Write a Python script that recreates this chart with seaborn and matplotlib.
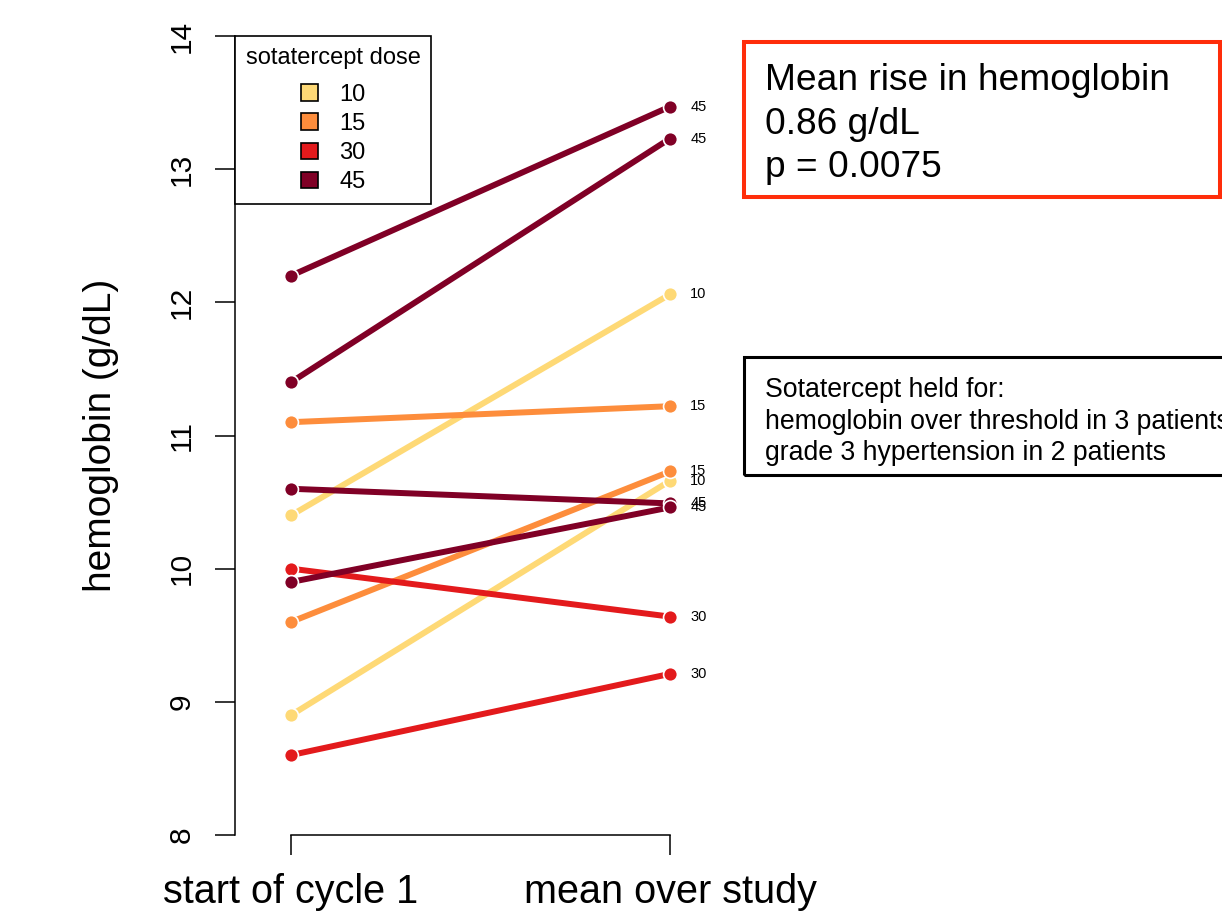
import matplotlib
matplotlib.use("Agg")
import matplotlib.pyplot as plt
from matplotlib.patches import Patch, Rectangle
import seaborn as sns
import pandas as pd

# Datos: hemoglobina al inicio del ciclo 1 y media durante el estudio
patients = ["P1", "P2", "P3", "P4", "P5", "P6", "P7", "P8", "P9", "P10"]
dose = ["45", "45", "15", "45", "10", "30", "45", "15", "10", "30"]
hb_start = [12.2, 11.4, 11.1, 10.6, 10.4, 10.0, 9.9, 9.6, 8.9, 8.6]
hb_mean = [13.47, 13.23, 11.22, 10.49, 12.06, 9.64, 10.46, 10.73, 10.66, 9.21]

timepoints = ["start of cycle 1", "mean over study"]
dose_levels = ["10", "15", "30", "45"]
dose_colors = ["#FED976", "#FD8D3C", "#E31A1C", "#800026"]

summary_lines = ["Mean rise in hemoglobin", "0.86 g/dL", "p = 0.0075"]
held_lines = ["Sotatercept held for:",
              "hemoglobin over threshold in 3 patients",
              "grade 3 hypertension in 2 patients"]

# formato largo para seaborn
df = pd.DataFrame({
    "patient": patients * 2,
    "dose": dose * 2,
    "time": [0] * len(patients) + [1] * len(patients),
    "hb": hb_start + hb_mean,
})
palette = dict(zip(dose_levels, dose_colors))

sns.set_style("ticks")
plt.rcParams["font.family"] = ["Liberation Sans", "DejaVu Sans"]
plt.rcParams["text.color"] = "black"
plt.rcParams["axes.labelcolor"] = "black"
plt.rcParams["xtick.color"] = "black"
plt.rcParams["ytick.color"] = "black"

W, H = 1222, 911
fig = plt.figure(figsize=(W / 100, H / 100), dpi=100)
ax = fig.add_axes([235 / W, 1 - 835 / H, (730 - 235) / W, (835 - 36) / H])

sns.lineplot(data=df, x="time", y="hb", hue="dose", units="patient",
             estimator=None, palette=palette, hue_order=dose_levels,
             marker="o", markersize=10, markeredgecolor="white",
             markeredgewidth=1.2, linewidth=4.3, legend=False, ax=ax)

# etiquetas de dosis junto al valor medio
for d, v in zip(dose, hb_mean):
    ax.annotate(d, (1, v), xytext=(14.5, 0), textcoords="offset points",
                va="center", ha="left", fontsize=10.5, annotation_clip=False)

ax.set_xlim(-(291 - 235) / 379, (730 - 291) / 379)
ax.set_ylim(8, 14)
ax.set_xticks([0, 1])
ax.set_xticklabels(timepoints, fontsize=28.5)
ax.set_yticks(range(8, 15))
ax.set_yticklabels([str(t) for t in range(8, 15)], fontsize=21.5,
                   rotation=90, va="center")
ax.tick_params(axis="y", length=14.4, width=1.1, pad=14)
ax.tick_params(axis="x", length=14.4, width=1.1, pad=13)
ax.set_xlabel("")
ax.set_ylabel("hemoglobin (g/dL)", fontsize=28, va="center")
ax.yaxis.set_label_coords((101 - 235) / 495, 0.5)

for s in ["top", "right"]:
    ax.spines[s].set_visible(False)
for s in ["left", "bottom"]:
    ax.spines[s].set_linewidth(1.1)
    ax.spines[s].set_color("black")
ax.spines["left"].set_bounds(8, 14)
ax.spines["bottom"].set_bounds(0, 1)

handles = [Patch(facecolor=c, edgecolor="black", linewidth=1.2) for c in dose_colors]
leg = ax.legend(handles, dose_levels, title="sotatercept dose",
                loc="upper left", bbox_to_anchor=(0, 1), borderaxespad=0,
                fontsize=17, title_fontsize=17, frameon=True, fancybox=False,
                edgecolor="black", framealpha=1, handlelength=0.72,
                handleheight=0.72, handletextpad=0.9, labelspacing=0.3,
                borderpad=0.45)
leg.get_frame().set_linewidth(1.2)
# un poco mas de aire entre el titulo y las entradas
leg._legend_box.sep = 0.3 * 17 + 6

# recuadros de texto a la derecha
fig.add_artist(Rectangle((744 / W, 1 - 197 / H), (1220 - 744) / W, (197 - 42) / H,
                         transform=fig.transFigure, fill=False,
                         edgecolor="#FF2D0A", linewidth=2.9))
for line, base in zip(summary_lines, [90, 133.5, 177]):
    fig.text(765 / W, 1 - base / H, line, fontsize=26.7, va="baseline", ha="left")

fig.add_artist(Rectangle((744 / W, 1 - 475 / H), (1260 - 744) / W, (475 - 357) / H,
                         transform=fig.transFigure, fill=False,
                         edgecolor="black", linewidth=2.2, clip_on=False))
for line, base in zip(held_lines, [397, 428.5, 460]):
    fig.text(765 / W, 1 - base / H, line, fontsize=19.2, va="baseline", ha="left")

fig.savefig("out.png", dpi=100)
